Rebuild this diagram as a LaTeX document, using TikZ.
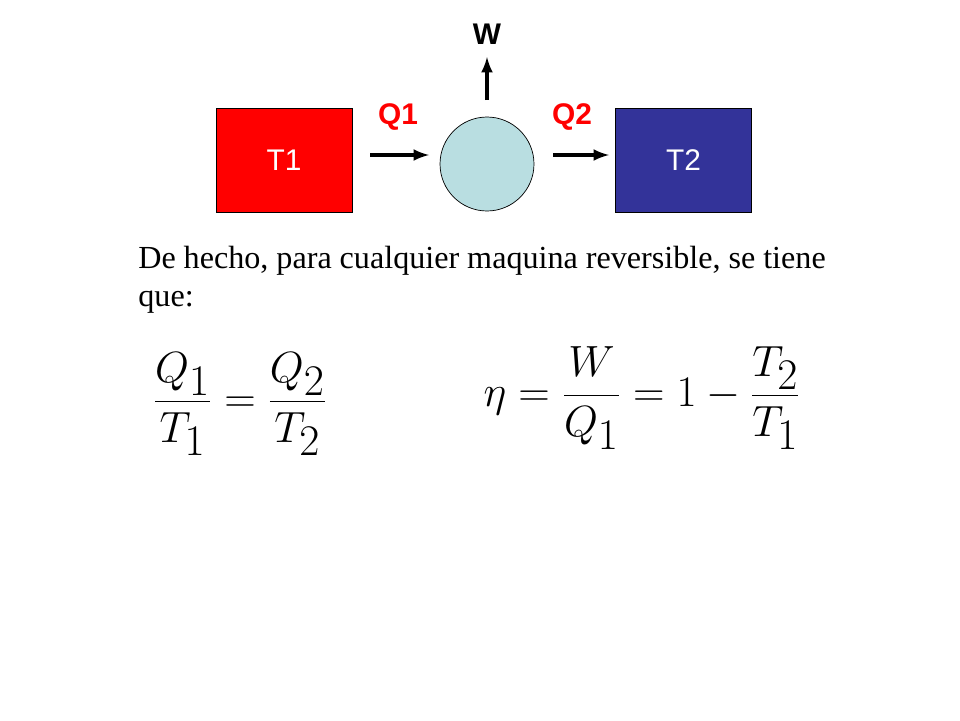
\documentclass[tikz,border=0pt]{standalone}
\usepackage{amsmath}
\usepackage{fontspec}
\setmainfont{Liberation Serif}
\setsansfont{Liberation Sans}

\begin{document}
\begin{tikzpicture}[x=0.02cm,y=-0.02cm,
    box/.style={draw=black,text=white,minimum width=2.72cm,minimum height=2.08cm,font=\sffamily\fontsize{17}{20}\selectfont},
    heat/.style={text=red,font=\sffamily\bfseries\fontsize{17}{20}\selectfont},
    flow/.style={line width=2pt,-latex}]

    \useasboundingbox (0,0) rectangle (960,720);

    \node[box,fill=red] (hot) at (284,160) {T1};
    \node[box,fill={rgb,255:red,51;green,51;blue,153}] (cold) at (683.5,160) {T2};
    \node[draw=black,fill={rgb,255:red,185;green,222;blue,225},circle,minimum size=1.88cm] (engine) at (487,164) {};

    \coordinate (q1a) at (370,155);
    \coordinate (q1b) at (429,155);
    \coordinate (q2a) at (553,155);
    \coordinate (q2b) at (609,155);
    \coordinate (wa) at (487,100);
    \coordinate (wb) at (487,57);

    \draw[flow] (q1a) -- (q1b);
    \draw[flow] (q2a) -- (q2b);
    \draw[flow] (wa) -- (wb);

    \node[heat] (q1) at (398,117) {Q1};
    \node[heat] (q2) at (572,117) {Q2};
    \node[font=\sffamily\bfseries\fontsize{17}{20}\selectfont] (work) at (487,34) {W};

    \node[anchor=north west,text width=13.75cm,align=justify,inner sep=0pt,
          font=\fontsize{18.3}{21.5}\selectfont] (txt) at (138,246)
        {De hecho, para cualquier maquina reversible, se tiene que:};

    \node[font=\fontsize{33}{38}\selectfont] (eqa) at (240,404)
        {$\dfrac{Q_1}{T_1}=\dfrac{Q_2}{T_2}$};
    \node[font=\fontsize{33}{38}\selectfont] (eqb) at (642,398)
        {$\eta=\dfrac{W}{Q_1}=1-\dfrac{T_2}{T_1}$};

\end{tikzpicture}
\end{document}
